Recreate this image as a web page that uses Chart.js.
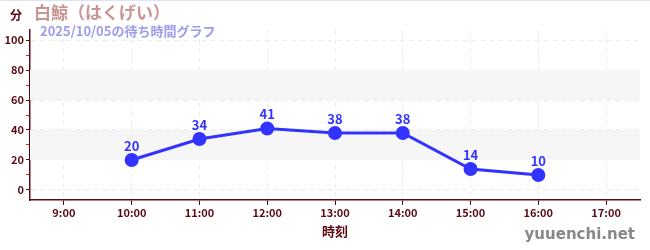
<!DOCTYPE html>
<html>
<head>
<meta charset="utf-8">
<script src="https://cdn.jsdelivr.net/npm/chart.js@4"></script>
<style>
  body { margin: 0; background: #fff; }
  #wrap { width: 650px; height: 250px; position: relative; }
</style>
</head>
<body>
<div id="wrap"><canvas id="wait-chart"></canvas></div>
<script>
const hours = [10, 11, 12, 13, 14, 15, 16];
const waitMinutes = [20, 34, 41, 38, 38, 14, 10];
const hourTicks = [9, 10, 11, 12, 13, 14, 15, 16, 17];
const minuteTicks = [0, 10, 20, 30, 40, 50, 60, 70, 80, 90, 100];
const bands = [[20, 40], [60, 80]];

const titleText = "白鯨（はくげい）";
const subtitleText = "2025/10/05の待ち時間グラフ";
const unitText = "分";
const xTitleText = "時刻";
const siteText = "yuuenchi.net";

const FONT = "'Noto Sans CJK JP', 'Noto Sans', sans-serif";
const AXIS_COLOR = "#5a0a14";

// light gray bands behind the plot
const bandPlugin = {
    id: "bands",
    beforeDatasetsDraw(chart) {
        const { ctx, chartArea, scales } = chart;
        ctx.save();
        ctx.fillStyle = "#f6f6f6";
        bands.forEach(b => {
            const top = scales.y.getPixelForValue(b[1]);
            const bottom = scales.y.getPixelForValue(b[0]);
            ctx.fillRect(chartArea.left, top, chartArea.right - chartArea.left, bottom - top);
        });
        ctx.restore();
    }
};

// texts, value labels
const textPlugin = {
    id: "texts",
    afterDraw(chart) {
        const { ctx, chartArea } = chart;
        ctx.save();
        ctx.strokeStyle = "#e0e0f8";
        ctx.lineWidth = 1;
        ctx.beginPath();
        ctx.moveTo(0, 0.5);
        ctx.lineTo(650, 0.5);
        ctx.stroke();

        ctx.textBaseline = "middle";
        ctx.textAlign = "left";
        ctx.fillStyle = AXIS_COLOR;
        ctx.font = "bold 12px " + FONT;
        ctx.fillText(unitText, 10, 15);

        ctx.fillStyle = "#c89494";
        ctx.font = "bold 17px " + FONT;
        ctx.fillText(titleText, 34, 13);

        ctx.fillStyle = "#9c9cf0";
        ctx.font = "bold 13px " + FONT;
        ctx.fillText(subtitleText, 40, 31);

        ctx.fillStyle = AXIS_COLOR;
        ctx.textAlign = "center";
        ctx.font = "bold 13px " + FONT;
        ctx.fillText(xTitleText, (chartArea.left + chartArea.right) / 2, 231);

        ctx.fillStyle = "#888";
        ctx.textAlign = "right";
        ctx.font = "bold 15px 'DejaVu Sans', sans-serif";
        ctx.fillText(siteText, 635, 235);

        // value labels above points
        const meta = chart.getDatasetMeta(0);
        ctx.fillStyle = "#3333ff";
        ctx.textAlign = "center";
        ctx.font = "bold 13px " + FONT;
        meta.data.forEach((pt, i) => {
            ctx.fillText(String(waitMinutes[i]), pt.x, pt.y - 14);
        });
        ctx.restore();
    }
};

new Chart(document.getElementById("wait-chart"), {
    type: "line",
    data: {
        datasets: [{
            data: hours.map((h, i) => ({ x: h, y: waitMinutes[i] })),
            borderColor: "#3333ff",
            backgroundColor: "#3333ff",
            borderWidth: 3,
            pointRadius: 5.5,
            pointHoverRadius: 5.5,
            tension: 0
        }]
    },
    options: {
        responsive: true,
        maintainAspectRatio: false,
        animation: false,
        layout: { padding: { top: 30, right: 10, left: 0, bottom: 0 } },
        plugins: { legend: { display: false }, tooltip: { enabled: false } },
        scales: {
            x: {
                type: "linear",
                min: 8.5,
                max: 17.5,
                afterBuildTicks: scale => { scale.ticks = hourTicks.map(v => ({ value: v })); },
                afterFit: scale => { scale.height = 50; },
                ticks: {
                    color: AXIS_COLOR,
                    font: { family: FONT, size: 11, weight: "bold" },
                    padding: 1,
                    maxRotation: 0,
                    callback: v => v + ":00"
                },
                grid: {
                    color: "#ececec",
                    tickColor: AXIS_COLOR,
                    tickLength: 5,
                    lineWidth: 1
                },
                border: { color: AXIS_COLOR, width: 1.5, dash: [5, 4] }
            },
            y: {
                min: -6.67,
                max: 106.67,
                afterBuildTicks: scale => { scale.ticks = minuteTicks.map(v => ({ value: v })); },
                afterFit: scale => { scale.width = 30; },
                ticks: {
                    color: AXIS_COLOR,
                    font: { family: FONT, size: 11, weight: "bold" },
                    padding: 2,
                    callback: v => (v % 20 === 0 ? v : "")
                },
                grid: {
                    color: ctx => (ctx.tick && ctx.tick.value % 20 === 0 ? "#ececec" : "rgba(0,0,0,0)"),
                    tickColor: ctx => (ctx.tick && ctx.tick.value % 20 === 0 ? AXIS_COLOR : "#e02020"),
                    tickLength: 4,
                    lineWidth: 1
                },
                border: { color: AXIS_COLOR, width: 1.5, dash: [5, 4] }
            }
        }
    },
    plugins: [bandPlugin, textPlugin]
});
</script>
</body>
</html>
